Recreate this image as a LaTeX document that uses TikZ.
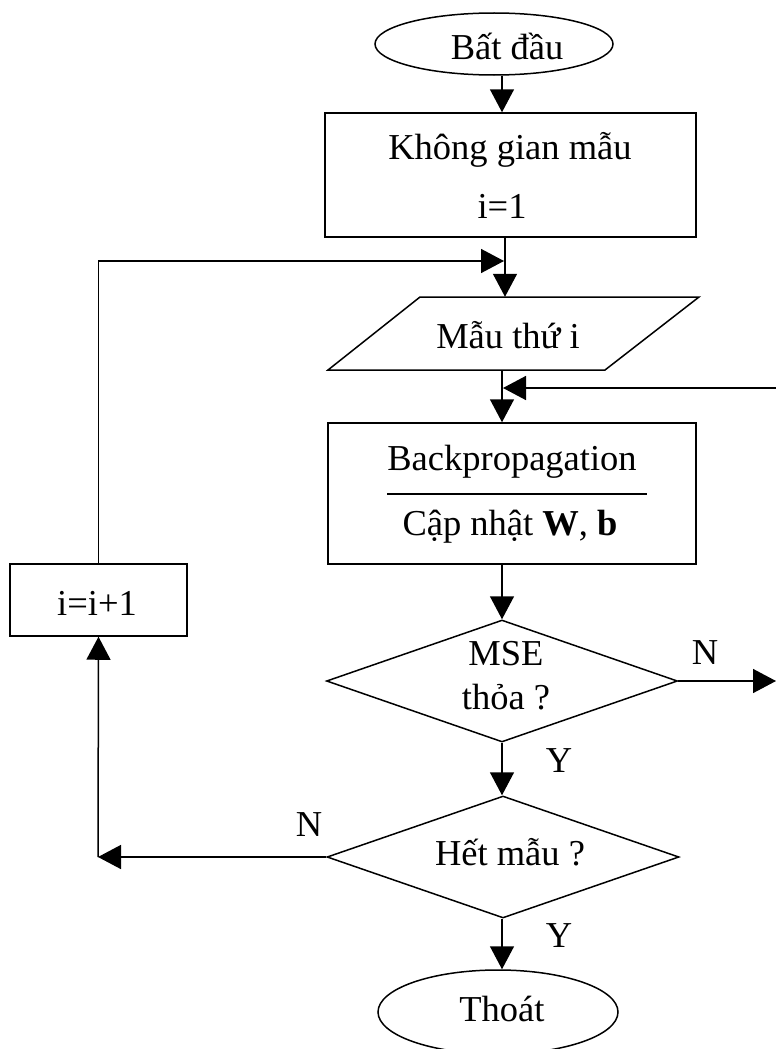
\documentclass[tikz,border=0pt]{standalone}
\usepackage{fontspec}
\setmainfont{Liberation Serif}
\usetikzlibrary{shapes.geometric,arrows.meta}
\begin{document}
\begin{tikzpicture}[x=1pt,y=-1pt,
  every node/.style={font=\fontsize{36.5}{44}\selectfont, inner sep=0pt},
  line/.style={line width=1.5pt},
  arr/.style={line width=1.5pt, -{Triangle[length=23pt,width=24pt]}},
  boxn/.style={draw, line width=1.5pt, rectangle},
  ell/.style={draw, line width=1.5pt, ellipse},
  dia/.style={draw, line width=1.5pt, diamond}]
\useasboundingbox (0,0) rectangle (776,1049);
\coordinate (ax) at (502,0);
\coordinate (axB) at (505,0);
% start
\node[ell, minimum width=238pt, minimum height=62pt] (start) at (494,44) {};
\node (starttxt) at (507,46) {Bất đầu};
% box1
\node[boxn, minimum width=371pt, minimum height=124pt] (box1) at (510.5,175) {};
\node (t1a) at (510,150) {Không gian mẫu};
\node (t1b) at (502,206) {i=1};
% parallelogram
\node[minimum width=185pt, minimum height=73pt] (par) at (513.5,333.5) {};
\draw[line] (420,297) -- (699,297) -- (605,370) -- (328,370) -- cycle;
\node (partxt) at (508,335) {Mẫu thứ i};
% box2
\node[boxn, minimum width=368pt, minimum height=141pt] (box2) at (512,493.5) {};
\draw[line] (387,494) -- (647,494);
\node (t2a) at (512,462) {Backpropagation};
\node (t2b) at (510,527) {Cập nhật \textbf{W}, \textbf{b}};
% diamond 1
\node[dia, minimum width=351pt, minimum height=122pt] (d1) at (502,681) {};
\node (d1a) at (506,654) {MSE};
\node (d1b) at (506,697) {thỏa ?};
% diamond 2
\node[dia, minimum width=352pt, minimum height=122pt] (d2) at (503,857) {};
\node (d2t) at (510,852) {Hết mẫu ?};
% increment box
\node[boxn, minimum width=177pt, minimum height=72pt] (inc) at (98.5,600) {};
\node (inctxt) at (97,603) {i=i+1};
% exit
\node[ell, minimum width=240pt, minimum height=84pt] (exit) at (498,1012) {};
\node (exittxt) at (502,1009) {Thoát};
% labels
\node (n1) at (705,653) {N};
\node (y1) at (559,761) {Y};
\node (n2) at (309,825) {N};
\node (y2) at (559,936) {Y};
% coordinates
\coordinate (j1) at (504,261);
\coordinate (j2) at (503,388);
\coordinate (r1) at (776,388);
\coordinate (r2) at (776,681);
\coordinate (c1) at (98,857);
% connectors
\draw[arr] (start.south -| ax) -- (box1.north -| ax);
\draw[arr] (box1.south -| axB) -- (par.north -| axB);
\draw[arr] (par.south -| ax) -- (box2.north -| ax);
\draw[arr] (box2.south -| ax) -- (d1.north);
\draw[arr] (d1.south) -- (d1.south |- d2.north);
\draw[arr] (d2.south -| ax) -- (exit.north -| ax);
\draw[arr] (d1.east) -- (r2);
\draw[arr] (r1) -- (j2);
\draw[arr] (d2.west) -- (c1);
\draw[arr] (c1) -- (inc.south);
\draw[arr] (inc.north) |- (j1);
\end{tikzpicture}
\end{document}
